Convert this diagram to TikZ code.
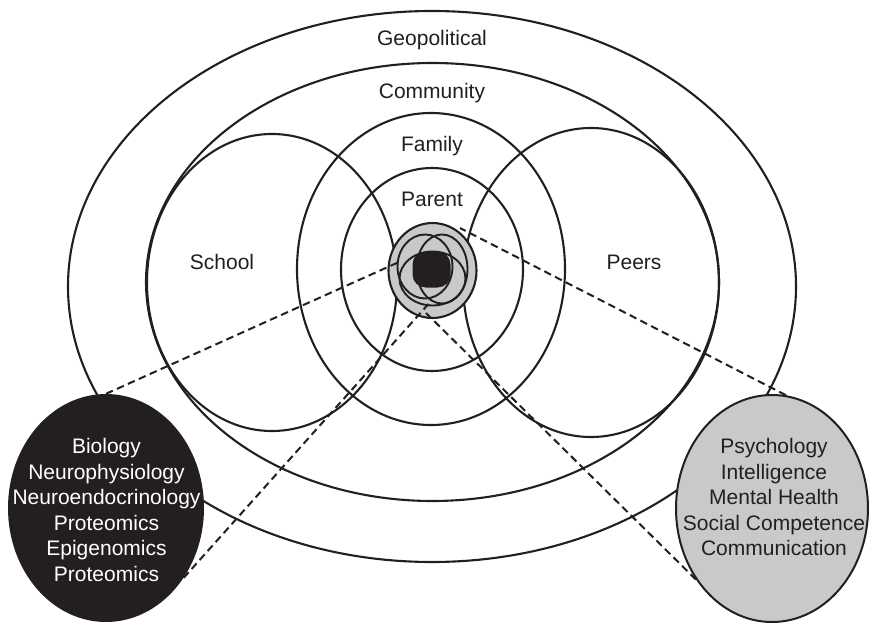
\documentclass[tikz,border=0pt]{standalone}
\usepackage{fontspec}
\setmainfont{Liberation Sans}
\usetikzlibrary{shapes.geometric}
\definecolor{ink}{HTML}{231F20}
\definecolor{lgray}{HTML}{C8C9CB}
\begin{document}
\begin{tikzpicture}[x=1pt,y=-1pt,
  ring/.style={draw=ink, line width=2.1pt, ellipse, inner sep=0pt},
  thinring/.style={draw=ink, line width=1.9pt, ellipse, inner sep=0pt},
  lbl/.style={font=\fontsize{21}{25.5}\selectfont, text=ink, inner sep=0pt},
  link/.style={draw=ink, line width=2pt, dash pattern=on 7.5pt off 4.5pt},
]
\useasboundingbox[fill=white] (0,0) rectangle (871,623);

% nested systems
\node[ring, minimum width=728pt, minimum height=551pt] (geo) at (432,286.5) {};
\node[ring, minimum width=573pt, minimum height=438pt] (comm) at (432.5,282) {};
\node[ring, minimum width=268pt, minimum height=312pt] (fam) at (431,269) {};
\node[ring, minimum width=182pt, minimum height=203pt] (par) at (432,269.5) {};
\node[ring, minimum width=250pt, minimum height=297pt] (school) at (272,282.5) {};
\node[ring, minimum width=256pt, minimum height=309pt] (peers) at (591,282.5) {};

% the individual
\node[ring, fill=lgray, minimum width=88pt, minimum height=95pt] (self) at (432.5,270.5) {};
\node[thinring, minimum width=55pt, minimum height=64pt] (loopL) at (425,266.5) {};
\node[thinring, minimum width=51pt, minimum height=69pt] (loopR) at (442,269) {};
\node[thinring, minimum width=66pt, minimum height=54pt] (loopB) at (432.5,278.5) {};
\node[rectangle, rounded corners=13pt, fill=ink, minimum width=38pt, minimum height=36pt, inner sep=0pt] (core) at (431.5,269.5) {};

% domains
\node[ellipse, fill=ink, minimum width=196pt, minimum height=228pt, inner sep=0pt] (bio) at (106,508) {};
\node[ellipse, draw=ink, line width=2pt, fill=lgray, minimum width=192pt, minimum height=227pt, inner sep=0pt] (psy) at (772,508.5) {};

% dashed connectors
\coordinate (e1) at (399,262);
\coordinate (e2) at (432,300);
\coordinate (e3) at (460,228);
\coordinate (e4) at (426,313);
\draw[link] (bio.north) -- (e1);
\draw[link] (bio.-42) -- (e2);
\draw[link] (psy.83) -- (e3);
\draw[link] (psy.-137) -- (e4);

% labels
\node[lbl] (tgeo) at (432,40) {Geopolitical};
\node[lbl] (tcomm) at (432,93) {Community};
\node[lbl] (tfam) at (432,146) {Family};
\node[lbl] (tpar) at (432,199) {Parent};
\node[lbl] (tschool) at (222,262) {School};
\node[lbl] (tpeers) at (634,262) {Peers};
\node[lbl, text=white, align=center] (tbio) at (106.5,510) {Biology\\Neurophysiology\\Neuroendocrinology\\Proteomics\\Epigenomics\\Proteomics};
\node[lbl, align=center] (tpsy) at (774,497) {Psychology\\Intelligence\\Mental Health\\Social Competence\\Communication};
\end{tikzpicture}
\end{document}
